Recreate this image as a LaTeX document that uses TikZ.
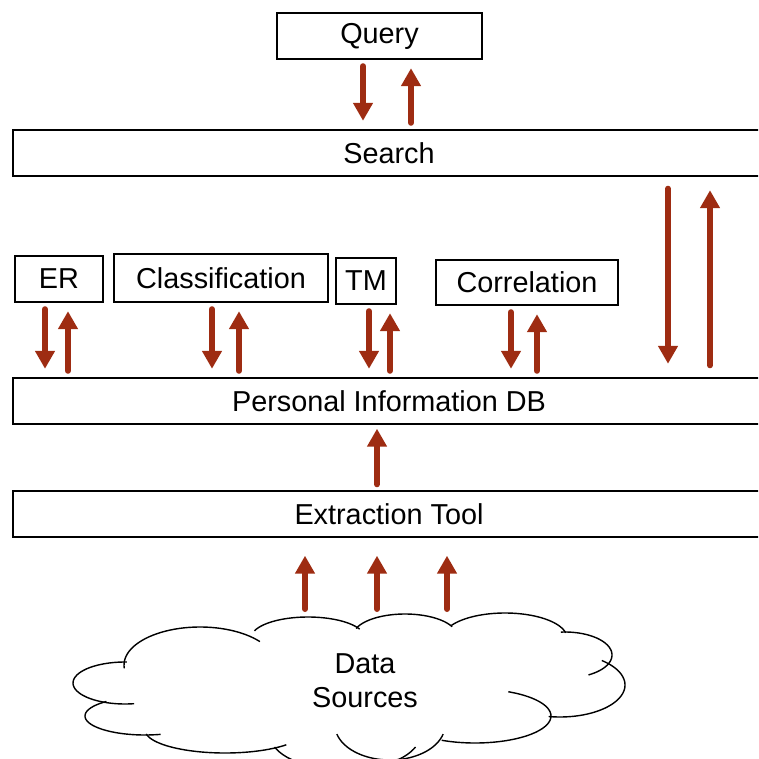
\documentclass[tikz,border=0pt]{standalone}
\usepackage{fontspec}
\setmainfont{Liberation Sans}
\usepackage{xcolor}
\usetikzlibrary{arrows.meta}

\definecolor{arrred}{RGB}{158,44,18}

\begin{document}
\begin{tikzpicture}[
  x=0.02cm, y=-0.02cm,
  box/.style={draw, line width=0.8pt, minimum height=0.92cm, inner sep=0pt,
              font=\fontsize{16.4}{19}\selectfont},
  arr/.style={-{Triangle[width=0.38cm,length=0.36cm]}, line width=0.12cm,
              arrred, line cap=round, shorten <=0.13cm, shorten >=0.17cm},
  longarr/.style={arr, shorten <=0.24cm, shorten >=0.27cm},
  puff/.style={draw, line width=0.8pt}
]
  \clip (0,0) rectangle (758,759);

  % top row
  \node[box, minimum width=4.1cm] (qry) at (379.5,36) {Query};
  \node[box, minimum width=15.04cm] (srch) at (389,153) {Search};

  % analysis modules
  \node[box, minimum width=1.76cm] (er)  at (59,279)    {ER};
  \node[box, minimum width=4.28cm, minimum height=0.96cm] (cls) at (221,278) {Classification};
  \node[box, minimum width=1.2cm]  (tm)  at (366,281)   {TM};
  \node[box, minimum width=3.64cm, minimum height=0.9cm] (cor) at (527,282.5) {Correlation};

  % storage and extraction
  \node[box, minimum width=15.04cm] (db)  at (389,401) {Personal Information DB};
  \node[box, minimum width=15.04cm] (ext) at (389,514) {Extraction Tool};

  % sources cloud: one elliptic arc per puff (centre / radii / angles)
  \foreach \cx/\cy/\rx/\ry/\a/\b in {125/683/52/21/80/272, 145/716/60/19/75/230,
      225/730/80/23/40/170, 345/735/75/35/20/160, 390/725/55/35/15/165,
      475/716/76/27/-64/116, 560/685/65/32/-50/100, 565/655/47/23/-95/60,
      505/638/62/25/210/348, 405/636/52/22/200/335, 308/638/57/21/200/335,
      200/665/76/38/175/322}
    \draw[puff] plot[domain=\a:\b, samples=40, smooth] ({\cx+\rx*cos(\x)}, {\cy+\ry*sin(\x)});
  \coordinate (cldtop) at (377,609);
  \node[align=center, font=\fontsize{16.4}{19.5}\selectfont] (src) at (365,681) {Data\\Sources};

  \draw[arr] (363,0 |- qry.south) -- (363,0 |- srch.north);
  \draw[arr] (411,0 |- srch.north) -- (411,0 |- qry.south);

  \draw[longarr] (668,0 |- srch.south) -- (668,0 |- db.north);
  \draw[longarr] (710,0 |- db.north) -- (710,0 |- srch.south);

  \foreach \m/\a/\b in {er/45/68, cls/212/239, tm/369/390, cor/511/537} {
    \draw[arr] (\a,0 |- \m.south) -- (\a,0 |- db.north);
    \draw[arr] (\b,0 |- db.north) -- (\b,0 |- \m.south);
  }

  \draw[arr, shorten <=0.12cm, shorten >=0.08cm] (377,0 |- ext.north) -- (377,0 |- db.south);

  \foreach \a in {305,377,447}
    \draw[arr, shorten <=0cm, shorten >=0.36cm] (\a,0 |- cldtop) -- (\a,0 |- ext.south);
\end{tikzpicture}
\end{document}
